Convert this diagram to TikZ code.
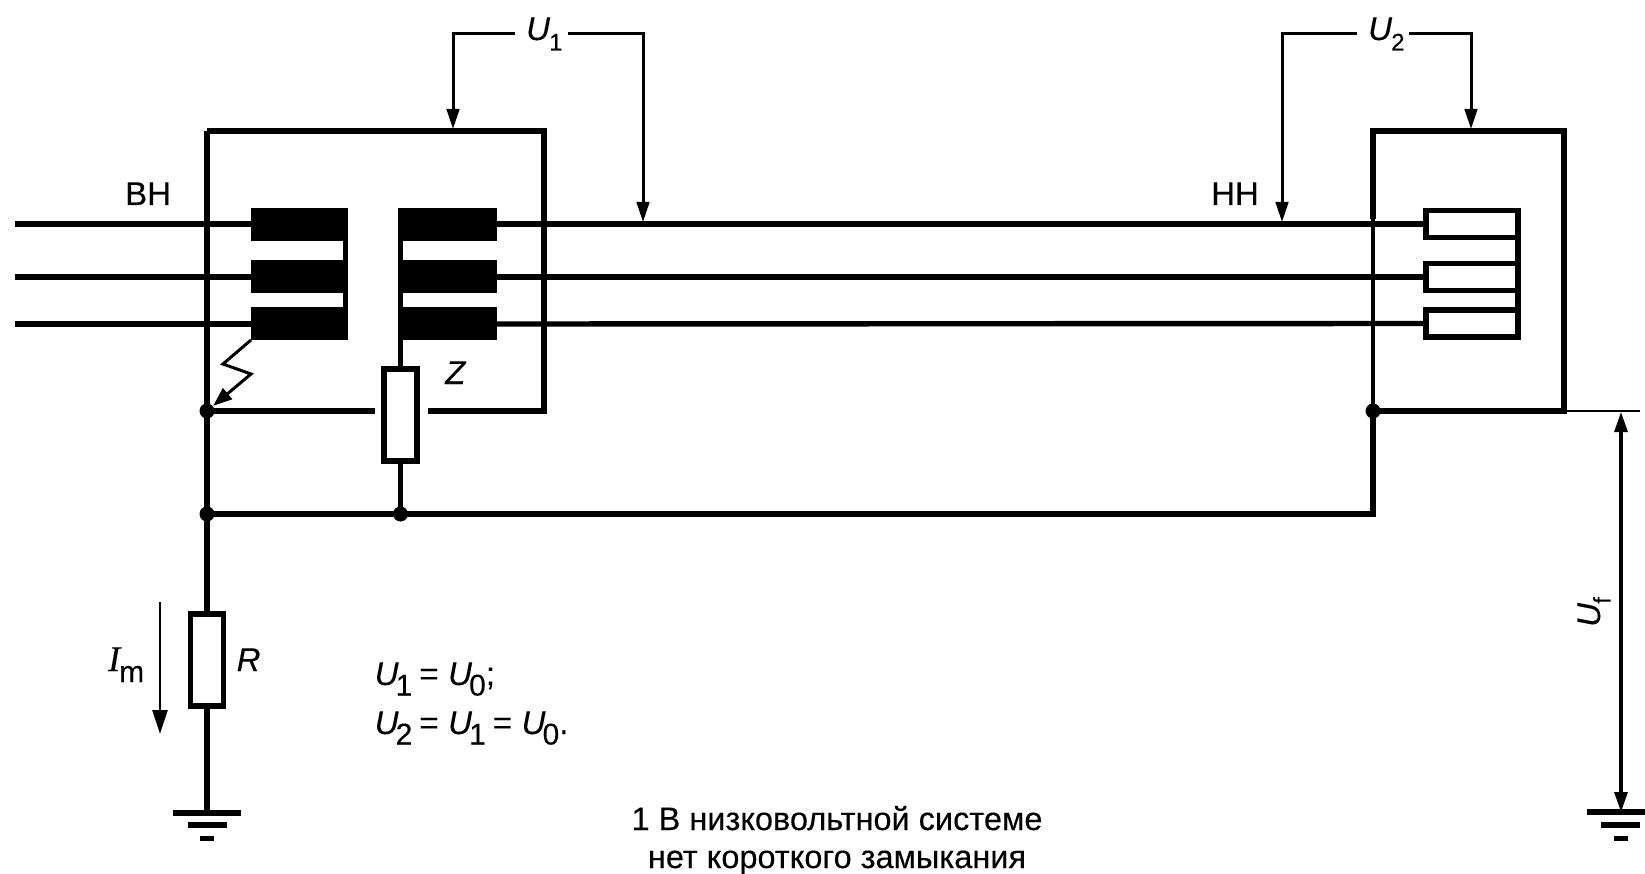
\documentclass[tikz,border=0pt]{standalone}
\usepackage{fontspec}
\defaultfontfeatures{FakeBold=0.2}
\setmainfont{Liberation Sans}
\newfontfamily\serifI{Liberation Serif}
\usetikzlibrary{arrows.meta}
\newcommand{\Usym}[1]{\textit{U}\kern-1pt\raisebox{-10.5pt}{\fontsize{24}{24}\selectfont #1}}
\newcommand{\Ueq}[1]{\textit{U}\kern-3pt\raisebox{-10.5pt}{\fontsize{30}{30}\selectfont #1}}
\newcommand{\Eq}{\kern7pt=\kern9.5pt}
\tikzset{
  x=1pt,y=-1pt,
  wire/.style={line width=5.4pt,line join=miter},
  thinwire/.style={line width=4.4pt},
  lead/.style={line width=2.5pt},
  arr/.style={line width=3pt,-{Triangle[length=20pt,width=12.5pt]}},
  dot/.style={circle,fill=black,draw=none,minimum size=15pt,inner sep=0pt},
  coil/.style={rectangle,fill=black,draw=none,inner sep=0pt,outer sep=0pt,minimum height=33pt},
  load/.style={rectangle,draw=black,fill=white,line width=5.4pt,inner sep=0pt,outer sep=0pt,minimum width=92pt,minimum height=27pt},
  res/.style={rectangle,draw=black,fill=white,line width=5.6pt,inner sep=0pt,outer sep=0pt,minimum width=33pt,minimum height=92.5pt},
  lbl/.style={anchor=base west,inner sep=0pt,font=\fontsize{33}{38}\selectfont},
  captext/.style={anchor=base,inner sep=0pt,font=\fontsize{32.5}{38}\selectfont},
}
\begin{document}
\begin{tikzpicture}
\useasboundingbox (0,0) rectangle (1645,874);
\fill[white] (0,0) rectangle (1645,874);
% named points
\coordinate (w1) at (15,224); \coordinate (w2) at (15,277); \coordinate (w3) at (15,324);
\coordinate (LTL) at (207,131); \coordinate (LTR) at (544,131); \coordinate (LBR) at (544,411);
\coordinate (LgapR) at (428,411); \coordinate (LgapL) at (375,411);
\coordinate (RTL) at (1373,131); \coordinate (RTR) at (1564,131); \coordinate (RBR) at (1564,411);
\coordinate (RW) at (1373,219);
\coordinate (ufEnd) at (1640,411);
\coordinate (gL) at (207,813);
\coordinate (gR) at (1621,812);
\coordinate (ufTop) at (1621,412);
\coordinate (RB) at (1373,514);
% wires on HV side
\node[coil,minimum width=97pt] (p1) at (299.5,224.5) {};
\node[coil,minimum width=97pt] (p2) at (299.5,276.5) {};
\node[coil,minimum width=97pt] (p3) at (299.5,323.5) {};
\draw[wire] (w1) -- (p1.west |- w1);
\draw[wire] (w2) -- (p2.west |- w2);
\draw[wire] (w3) -- (p3.west |- w3);
\fill (343,208) rectangle (348,340);
\node[coil,minimum width=99pt] (s1) at (447.5,224.5) {};
\node[coil,minimum width=99pt] (s2) at (447.5,276.5) {};
\node[coil,minimum width=99pt] (s3) at (447.5,323.5) {};
\fill (398,208) rectangle (403,340);
% load
\node[load] (l1) at (1472,224) {};
\node[load] (l2) at (1472,277) {};
\node[load] (l3) at (1472,323.5) {};
\draw[wire] (s1.east |- w1) -- (l1.west);
\draw[wire] (s2.east |- w2) -- (l2.west);
\draw[wire] (s3.east |- w3) -- (l3.west);
\draw[line width=5.4pt] (l1.north east) -- (l3.south east);
% junctions
\node[dot] (j1) at (207,411) {};
\node[dot] (j2) at (207,514) {};
\node[dot] (j3) at (400.5,514) {};
\node[dot] (j4) at (1373,411) {};
% boxes
\draw[wire] (LTL) -- (gL);
\draw[wire] (j2.center) -- (RB) -- (j4.center);
\draw[wire] (LTL) -- (LTR) -- (LBR) -- (LgapR);
\draw[wire] (j1.center) -- (LgapL);
\draw[thinwire] (j4.center) -- (RW);
\draw[wire] (RW) -- (RTL) -- (RTR) -- (RBR) -- (j4.center);
% impedance
\node[res] (Z) at (400.5,415) {};
\draw[wire] (Z.north |- s3.south) -- (Z.north);
\draw[wire] (Z.south) -- (j3.center);
% resistor R
\node[res] (R) at (207,660) {};
\draw[wire] (j2.center) -- (R.north);
% fault arrow
\coordinate (f0) at (251,340);
\coordinate (f1) at (223,364);
\coordinate (f2) at (251,374);
\draw[line width=3pt,shorten >=8pt,-{Triangle[length=19pt,width=14pt]}] (f0) -- (f1) -- (f2) -- (j1.center);
% grounds
\fill (173,810) rectangle (241,816);
\fill (188,822) rectangle (227,828);
\fill (200,835.5) rectangle (214,840.5);
\fill (1587,809) rectangle (1645,815);
\fill (1601,822) rectangle (1640,828);
\fill (1614,835.5) rectangle (1628,840.5);
% U1
\coordinate (a0) at (515,34); \coordinate (a1) at (453,34); \coordinate (a1e) at (453,129);
\coordinate (a3) at (568,34); \coordinate (a2) at (643,34); \coordinate (a2e) at (643,222);
\draw[arr] (a0) -- (a1) -- (a1e);
\draw[arr] (a3) -- (a2) -- (a2e);
% U2
\coordinate (b0) at (1357,34); \coordinate (b1) at (1282,34); \coordinate (b1e) at (1282,222);
\coordinate (b3) at (1409,34); \coordinate (b2) at (1471,34); \coordinate (b2e) at (1471,129);
\draw[arr] (b0) -- (b1) -- (b1e);
\draw[arr] (b3) -- (b2) -- (b2e);
% Uf
\draw[lead] (RBR) -- (ufEnd);
\draw[line width=3.2pt,{Triangle[length=20pt,width=13pt]}-{Triangle[length=20pt,width=13pt]}] (ufTop) -- (gR);
% current arrow
\coordinate (i0) at (160,602); \coordinate (i1) at (160,734);
\draw[line width=2.8pt,-{Triangle[length=24pt,width=15pt]}] (i0) -- (i1);
% labels
\node[lbl] (tU1) at (526,40) {\Usym{1}};
\node[lbl] (tU2) at (1368,40) {\Usym{2}};
\node[lbl] (tVN) at (125,205) {ВН};
\node[lbl] (tNN) at (1211,205) {НН};
\node[lbl] (tZ) at (445,384) {\textit{Z}};
\node[lbl] (tR) at (236.5,671) {\textit{R}};
\node[lbl] (tI) at (108,671) {{\fontsize{36}{38}\serifI\itshape I}\kern-1pt\raisebox{-11pt}{\fontsize{30}{30}\selectfont m}};
\node[lbl] (tE1) at (374.5,685) {\Ueq{1}\Eq\Ueq{0};};
\node[lbl] (tE2) at (374.5,734) {\Ueq{2}\Eq\Ueq{1}\Eq\Ueq{0}.};
\node[lbl,rotate=90] (tUf) at (1600,627) {\Usym{f}};
\node[captext] (tC1) at (837,830) {1 В низковольтной системе};
\node[captext] (tC2) at (837,868) {нет короткого замыкания};
\end{tikzpicture}
\end{document}
